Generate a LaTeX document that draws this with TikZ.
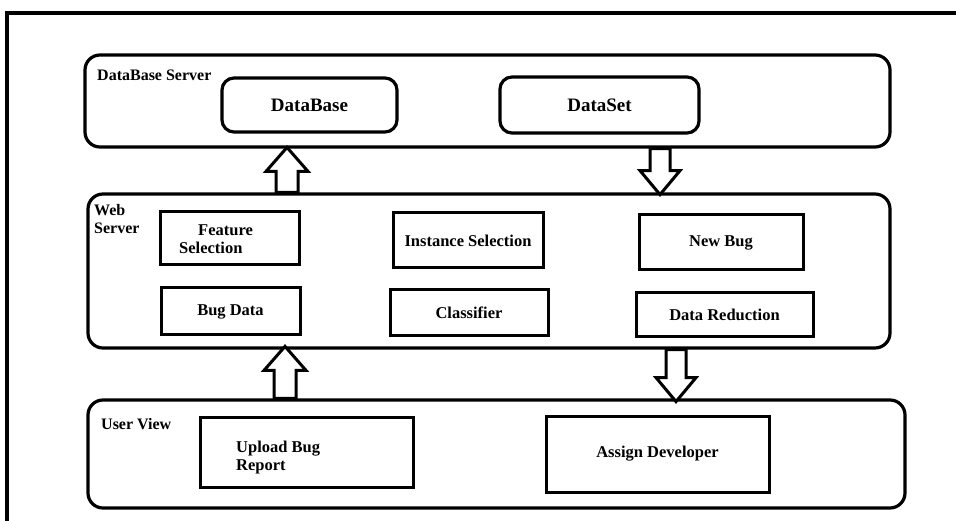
\documentclass[tikz,border=0pt]{standalone}
\usepackage{fontspec}
\setmainfont{Liberation Serif}
\usetikzlibrary{positioning}

\tikzset{
  container/.style={draw,line width=3.2pt,rounded corners=15pt,inner sep=0pt},
  roundbox/.style={draw,line width=3.2pt,rounded corners=12pt,inner sep=0pt,font=\fontsize{19}{21}\selectfont\bfseries},
  box/.style={draw,line width=3pt,inner sep=0pt,align=center,font=\fontsize{16.5}{18}\selectfont\bfseries},
  lbl/.style={inner sep=0pt,align=left,font=\fontsize{16}{18}\selectfont\bfseries},
  blockarrow/.style={draw,fill=white,line width=3pt,line join=miter}
}

\def\blockUp#1{--++(-11,0)--++(0,-#1)--++(-10,0)--++(21,-24)--++(21,24)--++(-10,0)--++(0,#1)--cycle}
\def\blockDown#1{--++(-10,0)--++(0,#1)--++(-10,0)--++(20,24)--++(20,-24)--++(-10,0)--++(0,-#1)--cycle}

\begin{document}
\begin{tikzpicture}[x=1pt,y=-1pt]
  \useasboundingbox (0,0) rectangle (956,521);
  % outer frame
  \draw[line width=3.2pt] (7,521) -- (7,13) -- (956,13);

  % DataBase Server
  \node[container,minimum width=805pt,minimum height=92pt] (dbserver) at (487.5,101) {};
  \node[lbl,anchor=west] (dbserverlbl) at (97,75) {DataBase Server};
  \node[roundbox,minimum width=175pt,minimum height=54pt] (database) at (309.5,105) {DataBase};
  \node[roundbox,minimum width=199pt,minimum height=56pt] (dataset) at (599.5,105) {DataSet};

  % Web Server
  \node[container,minimum width=802pt,minimum height=154pt] (webserver) at (489,271) {};
  \node[lbl,anchor=north west] (webserverlbl) at (94,204) {Web\\Server};
  \node[box,minimum width=139pt,minimum height=53pt] (featsel) at (229.5,238.5) {};
  \node[lbl,anchor=west,font=\fontsize{16.5}{18}\selectfont\bfseries] (featseltxt) at (179,239) {\hspace*{19pt}Feature\\Selection};
  \node[box,minimum width=139pt,minimum height=47pt] (bugdata) at (230.5,311.5) {Bug Data};
  \node[box,minimum width=150pt,minimum height=55pt] (instsel) at (468,240.5) {Instance Selection};
  \node[box,minimum width=158pt,minimum height=46pt] (classifier) at (469,313) {Classifier};
  \node[box,minimum width=164pt,minimum height=55pt] (newbug) at (721,242.5) {New Bug};
  \node[box,minimum width=177pt,minimum height=44pt] (datared) at (724.5,315) {Data Reduction};

  % User View
  \node[container,minimum width=817pt,minimum height=108pt] (userview) at (496.5,454) {};
  \node[lbl,anchor=west] (userviewlbl) at (101,424) {User View};
  \node[box,minimum width=213pt,minimum height=70pt] (upload) at (306.5,452) {};
  \node[lbl,anchor=west,font=\fontsize{16.5}{18}\selectfont\bfseries] (uploadtxt) at (236,458) {Upload Bug\\Report};
  \node[box,minimum width=223pt,minimum height=76pt] (assign) at (657.5,454) {Assign Developer};

  % block arrows
  \coordinate (webup) at (287,0 |- webserver.north);
  \coordinate (setdown) at (660,0 |- dbserver.south);
  \coordinate (userup) at (285,0 |- userview.north);
  \coordinate (webdown) at (676,0 |- webserver.south);
  \draw[blockarrow] (webup) \blockUp{21};
  \draw[blockarrow] (setdown) \blockDown{22};
  \draw[blockarrow] (userup) \blockUp{28};
  \draw[blockarrow] (webdown) \blockDown{28};
\end{tikzpicture}
\end{document}
